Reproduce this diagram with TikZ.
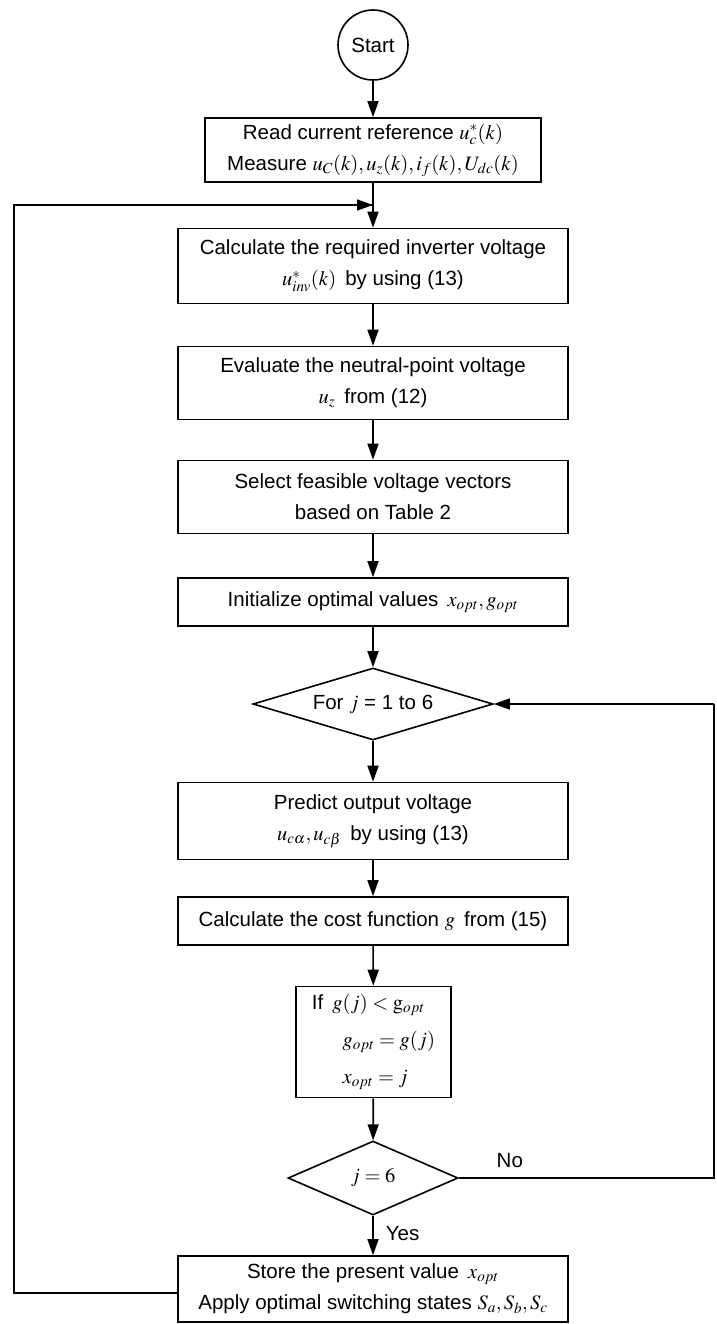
\documentclass[tikz,border=0pt]{standalone}
\usepackage{mathptmx}
\usepackage{fontspec}
\setmainfont{Liberation Sans}
\usetikzlibrary{arrows.meta,shapes.geometric}
\tikzset{
  box/.style={draw, line width=1.6pt, align=center, inner sep=2pt, font=\fontsize{20.5}{31}\selectfont},
  dia/.style={draw, line width=1.6pt, shape=diamond, inner sep=0pt, aspect=3, font=\fontsize{20.5}{31}\selectfont},
  arr/.style={line width=1.6pt, -{Triangle[length=16pt,width=11pt]}},
  ln/.style={line width=1.6pt},
  lbl/.style={font=\fontsize{20.5}{24}\selectfont, inner sep=0pt}
}
\begin{document}
\begin{tikzpicture}[x=1pt,y=-1pt]
\useasboundingbox (0,0) rectangle (716,1324);
\node[draw, line width=1.6pt, circle, minimum size=70pt, inner sep=0pt, font=\fontsize{20.5}{24}\selectfont] (start) at (373,45) {Start};
\node[box, minimum width=336pt, minimum height=64pt] (read) at (373,150) {Read current reference $u_c^{*}(k)$\\Measure $u_C(k),u_z(k),i_f(k),U_{dc}(k)$};
\node[box, minimum width=390pt, minimum height=75pt] (calc) at (373,266) {Calculate the required inverter voltage\\$u_{inv}^{*}(k)$\, by using (13)};
\node[box, minimum width=390pt, minimum height=73pt] (eval) at (373,383) {Evaluate the neutral-point voltage\\$u_z$\, from (12)};
\node[box, minimum width=390pt, minimum height=73pt] (sel) at (373,497) {Select feasible voltage vectors\\based on Table 2};
\node[box, minimum width=390pt, minimum height=48pt] (init) at (373,602) {Initialize optimal values\, $x_{opt},g_{opt}$};
\node[dia, minimum width=240pt, minimum height=72pt] (for) at (373,704) {For $j$ = 1 to 6};
\node[box, minimum width=390pt, minimum height=77pt] (pred) at (373,821) {Predict output voltage\\$u_{c\alpha},u_{c\beta}$\, by using (13)};
\node[box, minimum width=390pt, minimum height=48pt] (cost) at (373,921) {Calculate the cost function $g$\, from (15)};
\node[box, minimum width=155pt, minimum height=111pt, align=left, font=\fontsize{20.5}{37}\selectfont] (if) at (373.5,1042) {If\, $g(j)<\mathrm{g}_{opt}$\\\hspace*{1.5em}$g_{opt}=g(j)$\\\hspace*{1.5em}$x_{opt}=j$};
\node[dia, minimum width=170pt, minimum height=74pt] (j6) at (373,1178) {$j=6$};
\node[box, minimum width=390pt, minimum height=66pt] (store) at (373,1289) {Store the present value\, $x_{opt}$\\Apply optimal switching states $S_a,S_b,S_c$};
\coordinate (tl) at (14,205);
\coordinate (tj) at (373,205);
\coordinate (bl) at (14,1293);
\coordinate (rt) at (714,704);
\coordinate (rb) at (714,1178);
\draw[arr] (start) -- (read);
\draw[arr] (read) -- (calc);
\draw[arr] (calc) -- (eval);
\draw[arr] (eval) -- (sel);
\draw[arr] (sel) -- (init);
\draw[arr] (init) -- (for);
\draw[arr] (for) -- (pred);
\draw[arr] (pred) -- (cost);
\draw[arr] (cost) -- (if);
\draw[arr] (if) -- (j6);
\draw[arr] (j6) -- node[lbl, right, xshift=12pt, yshift=2pt] {Yes} (store);
\draw[ln] (store.west |- bl) -- (bl) -- (tl) -- (tj);
\draw[arr] (tl) -- (tj);
\draw[ln] (j6.east) -- node[lbl, above, pos=0.2, yshift=10pt] {No} (rb) -- (rt);
\draw[arr] (rt) -- (for.east);
\end{tikzpicture}
\end{document}
